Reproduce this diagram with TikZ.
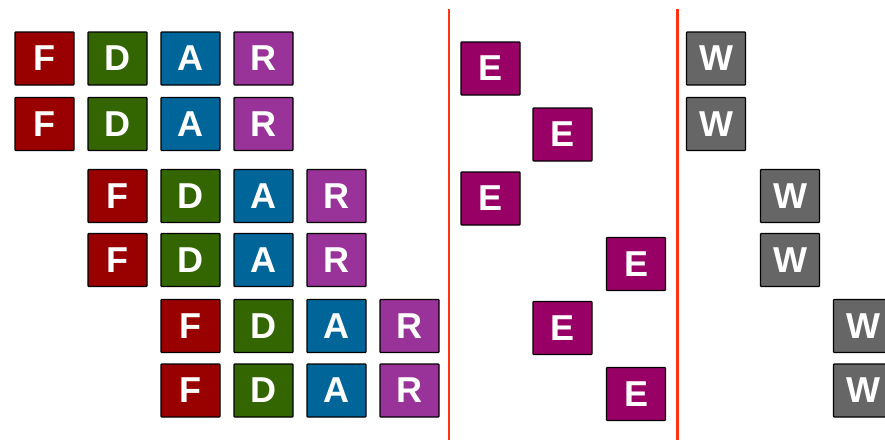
\documentclass[tikz,border=0pt]{standalone}
\usepackage{fontspec}
\setmainfont{Liberation Sans}
\usetikzlibrary{positioning}
\definecolor{fetchred}{HTML}{990000}
\definecolor{decgreen}{HTML}{336600}
\definecolor{allocblue}{HTML}{006699}
\definecolor{renpurple}{HTML}{993399}
\definecolor{execmag}{HTML}{990066}
\definecolor{wbgray}{HTML}{666666}
\definecolor{divred}{HTML}{FF3311}

\tikzset{
  stage/.style={draw=black, line width=1.2pt, rounded corners=0.8pt,
    minimum width=59pt, minimum height=53pt, inner sep=0pt,
    text=white, font=\fontsize{36}{40}\selectfont\bfseries},
  fetch/.style={stage, fill=fetchred},
  decode/.style={stage, fill=decgreen},
  alloc/.style={stage, fill=allocblue},
  rename/.style={stage, fill=renpurple},
  exec/.style={stage, fill=execmag},
  wback/.style={stage, fill=wbgray},
  divider/.style={draw=divred, line width=2.8pt}
}

\begin{document}
\begin{tikzpicture}[x=1pt,y=-1pt,node distance=73pt,on grid]
    \useasboundingbox (0,0) rectangle (885,440);

    % front end, two per cycle
    \node[fetch] (f1) at (44.5,58.5) {F};
    \node[decode] (d1) [right=of f1] {D};
    \node[alloc] (a1) [right=of d1] {A};
    \node[rename] (r1) [right=of a1] {R};

    \node[fetch] (f2) at (44.5,124) {F};
    \node[decode] (d2) [right=of f2] {D};
    \node[alloc] (a2) [right=of d2] {A};
    \node[rename] (r2) [right=of a2] {R};

    \node[fetch] (f3) at (117.5,196) {F};
    \node[decode] (d3) [right=of f3] {D};
    \node[alloc] (a3) [right=of d3] {A};
    \node[rename] (r3) [right=of a3] {R};

    \node[fetch] (f4) at (117.5,260) {F};
    \node[decode] (d4) [right=of f4] {D};
    \node[alloc] (a4) [right=of d4] {A};
    \node[rename] (r4) [right=of a4] {R};

    \node[fetch] (f5) at (190.5,326) {F};
    \node[decode] (d5) [right=of f5] {D};
    \node[alloc] (a5) [right=of d5] {A};
    \node[rename] (r5) [right=of a5] {R};

    \node[fetch] (f6) at (190.5,390.5) {F};
    \node[decode] (d6) [right=of f6] {D};
    \node[alloc] (a6) [right=of d6] {A};
    \node[rename] (r6) [right=of a6] {R};

    % out of order execution
    \node[exec] (e1) at (490.5,68.5) {E};
    \node[exec] (e2) at (562.5,134.5) {E};
    \node[exec] (e3) at (490.5,198.5) {E};
    \node[exec] (e4) at (636,264) {E};
    \node[exec] (e5) at (562.5,328) {E};
    \node[exec] (e6) at (636,394) {E};

    % in order writeback
    \node[wback] (w1) at (716,58.5) {W};
    \node[wback] (w2) at (716,124) {W};
    \node[wback] (w3) at (790,196) {W};
    \node[wback] (w4) at (790,260) {W};
    \node[wback] (w5) at (863,326) {W};
    \node[wback] (w6) at (863,390.5) {W};

    % dividers
    \coordinate (top1) at (449,9);
    \coordinate (bot1) at (449,440);
    \coordinate (top2) at (677.5,9);
    \coordinate (bot2) at (677.5,440);
    \draw[divider] (top1) -- (bot1);
    \draw[divider] (top2) -- (bot2);
\end{tikzpicture}
\end{document}
